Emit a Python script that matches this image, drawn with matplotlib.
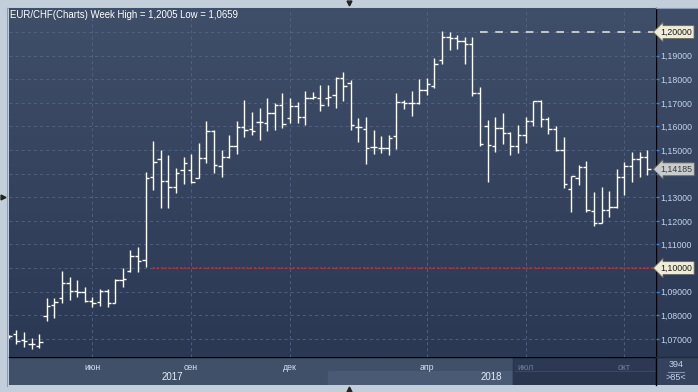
import numpy as np
import matplotlib
matplotlib.use("Agg")
import matplotlib.pyplot as plt
import matplotlib.transforms as mtransforms
from matplotlib.colors import LinearSegmentedColormap
from matplotlib.patches import Rectangle
from matplotlib.lines import Line2D

plt.rcParams["font.family"] = ["Liberation Sans", "DejaVu Sans"]
plt.rcParams["lines.scale_dashes"] = False

# EUR/CHF weekly bars (oldest first)
opens = [1.0712, 1.0719, 1.0695, 1.0679, 1.0668, 1.0797, 1.0843, 1.0872, 1.0938, 1.0901,
         1.0898, 1.0861, 1.0856, 1.0901, 1.0852, 1.0949, 1.0986, 1.1051, 1.1034, 1.1387,
         1.1461, 1.1370, 1.1344, 1.1415, 1.1415, 1.1383, 1.1465, 1.1581, 1.1432, 1.1472,
         1.1517, 1.1599, 1.1588, 1.1617, 1.1616, 1.1658, 1.1691, 1.1634, 1.1688, 1.1641,
         1.1722, 1.1722, 1.1722, 1.1733, 1.1806, 1.1783, 1.1599, 1.1588, 1.1514, 1.1507,
         1.1510, 1.1558, 1.1705, 1.1700, 1.1700, 1.1753, 1.1772, 1.1881, 1.1978, 1.1976,
         1.1962, 1.1948, 1.1740, 1.1602, 1.1518, 1.1592, 1.1573, 1.1519, 1.1565, 1.1622,
         1.1708, 1.1633, 1.1588, 1.1500, 1.1335, 1.1383, 1.1427, 1.1242, 1.1192, 1.1246,
         1.1258, 1.1384, 1.1432, 1.1462, 1.1469]
highs = [1.0718, 1.0736, 1.0729, 1.0705, 1.0722, 1.0872, 1.0874, 1.0987, 1.0963, 1.0949,
         1.0921, 1.0876, 1.0910, 1.0910, 1.0952, 1.0999, 1.1076, 1.1088, 1.1405, 1.1538,
         1.1500, 1.1479, 1.1422, 1.1469, 1.1483, 1.1528, 1.1623, 1.1583, 1.1500, 1.1564,
         1.1623, 1.1712, 1.1662, 1.1679, 1.1719, 1.1698, 1.1740, 1.1719, 1.1702, 1.1750,
         1.1747, 1.1775, 1.1775, 1.1811, 1.1829, 1.1797, 1.1634, 1.1640, 1.1583, 1.1559,
         1.1564, 1.1740, 1.1712, 1.1750, 1.1801, 1.1804, 1.1891, 1.2005, 1.1999, 1.1987,
         1.1978, 1.1978, 1.1768, 1.1627, 1.1639, 1.1656, 1.1578, 1.1606, 1.1641, 1.1709,
         1.1712, 1.1640, 1.1600, 1.1554, 1.1392, 1.1436, 1.1455, 1.1322, 1.1342, 1.1326,
         1.1418, 1.1450, 1.1493, 1.1493, 1.1500]
lows = [1.0705, 1.0679, 1.0667, 1.0659, 1.0660, 1.0777, 1.0789, 1.0850, 1.0864, 1.0878,
        1.0857, 1.0836, 1.0839, 1.0833, 1.0850, 1.0921, 1.0984, 1.0984, 1.1006, 1.1331,
        1.1256, 1.1256, 1.1319, 1.1356, 1.1360, 1.1382, 1.1446, 1.1404, 1.1387, 1.1465,
        1.1482, 1.1556, 1.1564, 1.1542, 1.1581, 1.1585, 1.1595, 1.1616, 1.1613, 1.1606,
        1.1715, 1.1667, 1.1686, 1.1679, 1.1708, 1.1585, 1.1535, 1.1442, 1.1484, 1.1486,
        1.1479, 1.1504, 1.1672, 1.1645, 1.1694, 1.1733, 1.1764, 1.1863, 1.1922, 1.1928,
        1.1863, 1.1729, 1.1518, 1.1366, 1.1493, 1.1524, 1.1479, 1.1486, 1.1532, 1.1603,
        1.1599, 1.1567, 1.1497, 1.1338, 1.1239, 1.1352, 1.1239, 1.1179, 1.1189, 1.1217,
        1.1253, 1.1309, 1.1366, 1.1387, 1.1394]
closes = [1.0711, 1.0692, 1.0689, 1.0677, 1.0685, 1.0840, 1.0857, 1.0938, 1.0901, 1.0897,
          1.0860, 1.0853, 1.0901, 1.0850, 1.0949, 1.0952, 1.1051, 1.1030, 1.1380, 1.1450,
          1.1367, 1.1344, 1.1401, 1.1444, 1.1363, 1.1465, 1.1581, 1.1436, 1.1472, 1.1517,
          1.1597, 1.1585, 1.1581, 1.1619, 1.1658, 1.1691, 1.1609, 1.1688, 1.1639, 1.1722,
          1.1723, 1.1691, 1.1725, 1.1804, 1.1772, 1.1606, 1.1599, 1.1507, 1.1511, 1.1510,
          1.1550, 1.1705, 1.1698, 1.1698, 1.1753, 1.1778, 1.1863, 1.1980, 1.1973, 1.1962,
          1.1948, 1.1740, 1.1525, 1.1521, 1.1592, 1.1573, 1.1519, 1.1565, 1.1622, 1.1708,
          1.1633, 1.1588, 1.1500, 1.1355, 1.1390, 1.1427, 1.1244, 1.1192, 1.1246, 1.1258,
          1.1384, 1.1432, 1.1462, 1.1469, 1.14185]

# month marks (bar index of first week of month)
month_idx = [11, 24, 37, 55, 68, 81]
month_labels = ["июн", "сен", "дек", "апр", "июл", "окт"]
year_labels = ["2017", "2018"]

price_levels = [1.07, 1.08, 1.09, 1.10, 1.11, 1.12, 1.13, 1.14, 1.15, 1.16, 1.17, 1.18, 1.19, 1.20]
hidden_levels = [1.10, 1.14, 1.20]   # covered by the marker boxes

level_high = 1.20
level_low = 1.10
high_line_start = 62
low_line_start = 19
bars_total = 394

W, H = 698, 392
fig = plt.figure(figsize=(W / 100, H / 100), dpi=100)
fig.patch.set_facecolor("#c3cedb")


def box(x0, y0, x1, y1):
    # pixel box (from top-left) -> figure fraction rect
    return [x0 / W, 1 - y1 / H, (x1 - x0) / W, (y1 - y0) / H]


def fline(x0, y0, x1, y1, **kw):
    fig.add_artist(Line2D([x0 / W, x1 / W], [1 - y0 / H, 1 - y1 / H],
                          transform=fig.transFigure, **kw))


grad = LinearSegmentedColormap.from_list("bg", ["#3f4e69", "#2b3853"])
ramp = np.linspace(0, 1, 256).reshape(-1, 1)

# right price panel
rpan = fig.add_axes(box(655.5, 8, 698, 357))
rpan.imshow(ramp, cmap=grad, extent=[0, 1, 0, 1], aspect="auto")
rpan.axis("off")

# bottom time panel
bpan = fig.add_axes(box(8.5, 357, 655.5, 385))
bpan.set_xlim(0, 1)
bpan.set_ylim(0, 1)
bpan.axis("off")
bpan.add_patch(Rectangle((0, 0), 1, 1, color="#415069"))
bpan.add_patch(Rectangle((0.494, 0), 0.286, 0.5, color="#4b5a74"))
bpan.add_patch(Rectangle((0.78, 0.5), 0.22, 0.5, color="#2d3954"))
bpan.add_patch(Rectangle((0.78, 0), 0.22, 0.5, color="#29344e"))
bpan.plot([0.78, 1], [0.5, 0.5], color="#3a4763", lw=0.8)
bpan.plot([0.78, 0.78], [0, 1], color="#2a3550", lw=1.0)

# corner box
cpan = fig.add_axes(box(656, 357, 698, 385))
cpan.set_xlim(0, 1)
cpan.set_ylim(0, 1)
cpan.axis("off")
cpan.add_patch(Rectangle((0, 0), 1, 1, color="#34425d"))
cpan.text(0.47, 0.74, str(bars_total), ha="center", va="center", color="#c4d4ec", fontsize=6.5)
cpan.plot([0.28, 0.66], [0.48, 0.48], color="#8392ab", lw=0.8)
cpan.text(0.47, 0.25, ">%d<" % len(closes), ha="center", va="center", color="#c4d4ec", fontsize=6.5)

# main chart
ax = fig.add_axes(box(8.5, 8, 655.5, 357))
ax.set_zorder(5)
ax.imshow(ramp, cmap=grad, extent=[0, 1, 0, 1], aspect="auto",
          transform=ax.transAxes, zorder=0)
x = np.arange(len(closes))
ax.set_xlim(-0.03, 85.1)
ax.set_ylim(1.0623, 1.2102)

ax.set_yticks(price_levels)
ax.set_yticklabels(["" if v in hidden_levels else ("%.5f" % v).replace(".", ",")
                    for v in price_levels])
ax.yaxis.tick_right()
ax.tick_params(axis="y", length=1.8, width=1, color="#3f86d6", pad=1.5,
               labelcolor="#c4d4ec", labelsize=6.3)

ax.set_xticks(month_idx)
ax.set_xticklabels(month_labels)
ax.tick_params(axis="x", length=0, pad=4.2, labelsize=6.3)
for i, t in enumerate(ax.get_xticklabels()):
    t.set_color("#d4e0f2" if i < 4 else "#6b7b96")

ax.grid(True, color="#57678a", linestyle=(0, (2.2, 2.2)), linewidth=0.7, alpha=0.8)
ax.set_axisbelow(True)
for s in ax.spines.values():
    s.set_visible(False)

# OHLC bars
tick = 0.45
ax.vlines(x, lows, highs, color="white", lw=1.0, zorder=3)
ax.hlines(opens, x - tick, x, color="white", lw=1.0, zorder=3)
ax.hlines(closes, x, x + tick, color="white", lw=1.0, zorder=3)

# level lines
ax.hlines(level_high, high_line_start, 85.1, color="#d0d0d0", lw=1.3,
          linestyle=(0, (5.5, 5.5)), zorder=2)
ax.hlines(level_low, low_line_start, 85.1, color="#dd2020", lw=1.3,
          linestyle=(0, (1.4, 1.4)), zorder=2)

title = "EUR/CHF(Charts) Week High = %s Low = %s" % (
    ("%.4f" % max(highs)).replace(".", ","), ("%.4f" % min(lows)).replace(".", ","))
ax.text(0.0025, 0.979, title, transform=ax.transAxes, color="white",
        fontsize=6.9, va="center", ha="left")

# price marker boxes on the right axis
trans = mtransforms.blended_transform_factory(ax.transAxes, ax.transData)
for lvl, fc, tc in [(level_high, "#efedd6", "#1a1a1a"),
                    (level_low, "#efedd6", "#1a1a1a"),
                    (closes[-1], "#c9cccc", "#3a3a3a")]:
    ax.text(1.0075, lvl, ("%.5f" % lvl).replace(".", ","), transform=trans,
            fontsize=6.3, color=tc, va="center", ha="left", clip_on=False, zorder=10,
            bbox=dict(boxstyle="larrow,pad=0.22", fc=fc, ec="#6a6a60", lw=0.6))

# year labels
fig.text(172.7 / W, 1 - 377 / H, year_labels[0], color="#e2ebf7", fontsize=7, ha="center", va="center")
fig.text(491.7 / W, 1 - 377 / H, year_labels[1], color="#e2ebf7", fontsize=7, ha="center", va="center")

# frame lines
fline(655.5, 8, 655.5, 385, color="black", lw=1.0)
fline(8.5, 357, 655.5, 357, color="black", lw=1.0)
fline(655.5, 357, 698, 357, color="#1f2a3c", lw=1.0)
fline(7.5, 8, 7.5, 386, color="#8e9bb0", lw=0.8)
fline(7.5, 8, 698, 8, color="#8e9bb0", lw=0.8)

# small window markers
fig.add_artist(Line2D([349 / W], [1 - 3 / H], marker="v", ms=3.5, color="#222222", transform=fig.transFigure))
fig.add_artist(Line2D([349 / W], [1 - 389 / H], marker="^", ms=3.5, color="#222222", transform=fig.transFigure))
fig.add_artist(Line2D([2.5 / W], [1 - 197 / H], marker=">", ms=3.5, color="#222222", transform=fig.transFigure))

fig.savefig("out.png", dpi=100)
